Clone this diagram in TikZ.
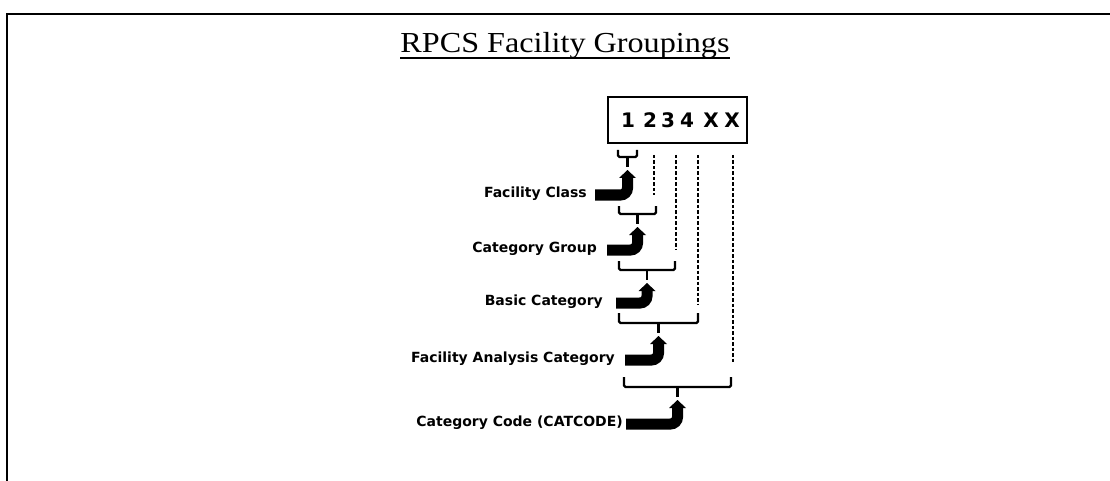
\documentclass[tikz,border=0pt]{standalone}
\usepackage{fontspec}
\setmainfont{Liberation Serif}
\newfontfamily\lblfont{DejaVu Sans}
\usepackage{tikz}
\usetikzlibrary{arrows.meta}

\tikzset{
  lbl/.style={font=\lblfont\bfseries\fontsize{14}{16}\selectfont,anchor=mid east,inner sep=0pt},
  digit/.style={font=\lblfont\bfseries\fontsize{20}{24}\selectfont,inner sep=0pt},
  brace/.style={line width=2.2pt,rounded corners=1.5pt},
  guide/.style={line width=2.4pt,dash pattern=on 3.5pt off 2pt},
  bentarrow/.style={line width=11pt,rounded corners=7pt,-{Triangle[width=17pt,length=8pt,line width=0pt]}}
}

\begin{document}
\begin{tikzpicture}[x=1pt,y=-1pt]
\useasboundingbox (0,0) rectangle (1110,481);
\draw[line width=2.4pt] (7,481) -- (7,14.3) -- (1110,14.3);
\node[inner sep=0pt,anchor=base,font=\fontsize{29}{32}\selectfont,xscale=1.11] (title) at (565,53) {RPCS Facility Groupings};
\draw[line width=1.6pt] ([yshift=-5pt]title.base west) -- ([yshift=-5pt]title.base east);
\node[draw,line width=1.6pt,minimum width=139pt,minimum height=46pt,inner sep=0pt] (code) at (677.5,120) {};
\foreach \n/\x/\d in {1/628/1,2/650/2,3/668/3,4/687/4,5/711/X,6/732/X}
	\node[digit] (d\n) at (\x,120.5) {\d};
\foreach \x/\e in {654/195,676/250,698/305,733/363}
	\draw[guide] (\x,155) -- (\x,\e);
\foreach \n/\l/\r/\t/\a in {1/618/637/150/7,2/619/656/206/8,3/619/675/261/9,4/619/698/313/10,5/624/731/377/10}{
	\draw[brace] (\l,\t) -- (\l,\t+\a) -- (\r,\t+\a) -- (\r,\t);
	\draw[brace] ({(\l+\r)/2},\t+\a) -- ++(0,10) coordinate (s\n);
	\coordinate (b\n) at ([yshift=-3pt]s\n);
}
\foreach \n/\r/\y/\txt in {1/587/195/Facility Class,2/597/250/Category Group,3/603/303/Basic Category,4/615/360/Facility Analysis Category,5/623/424/Category Code (CATCODE)}
	\node[lbl] (l\n) at (\r,\y) {\txt};
\foreach \n/\g in {1/8pt,2/10pt,3/13pt,4/10pt,5/3pt}
	\draw[bentarrow] ([xshift=\g]l\n.mid east) -| (b\n);
\end{tikzpicture}
\end{document}
